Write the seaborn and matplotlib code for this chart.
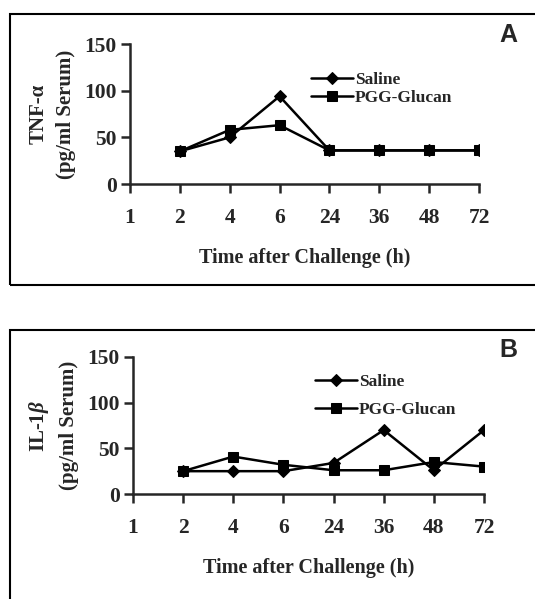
import pandas as pd
import matplotlib.pyplot as plt
import seaborn as sns
from matplotlib.patches import Rectangle

# dati
etichette_x = ["1", "2", "4", "6", "24", "36", "48", "72"]
tempi = ["2", "4", "6", "24", "36", "48", "72"]
tnf_saline = [35, 50, 94, 36, 36, 36, 36]
tnf_pgg = [35, 58, 63, 36, 36, 36, 36]
il1_saline = [25, 25, 25, 34, 70, 26, 70]
il1_pgg = [25, 41, 32, 26, 26, 35, 30]

sns.set_style("ticks")
plt.rcParams['font.family'] = ['Liberation Serif', 'DejaVu Serif']
plt.rcParams['font.weight'] = 'bold'
plt.rcParams['mathtext.fontset'] = 'custom'
plt.rcParams['mathtext.rm'] = 'Liberation Serif:bold'
plt.rcParams['mathtext.it'] = 'Liberation Serif:italic:bold'


def crea_df(saline, pgg):
    pos = [etichette_x.index(t) for t in tempi]
    righe = []
    for p, s, g in zip(pos, saline, pgg):
        righe.append({"pos": p, "val": s, "gruppo": "Saline"})
        righe.append({"pos": p, "val": g, "gruppo": "PGG-Glucan"})
    return pd.DataFrame(righe)


fig = plt.figure(figsize=(5.35, 5.99), dpi=100)

# riquadri dei pannelli
fig.patches.append(Rectangle((10 / 535, 1 - 285 / 599), 0.99, 271 / 599,
                             transform=fig.transFigure, fill=False, lw=1.5, ec='black'))
fig.patches.append(Rectangle((10 / 535, -0.01), 0.99, 1 - 330 / 599 + 0.01,
                             transform=fig.transFigure, fill=False, lw=1.5, ec='black'))

pannelli = [
    ([130 / 535, 1 - 184 / 599, 349 / 535, 140 / 599], tnf_saline, tnf_pgg,
     "TNF-α\n(pg/ml Serum)", "A", (508 / 535, 1 - 35 / 599), (0.50, 0.85), 0.1),
    ([133 / 535, 1 - 494 / 599, 351 / 535, 137 / 599], il1_saline, il1_pgg,
     "IL-1$\\beta$\n(pg/ml Serum)", "B", (508 / 535, 1 - 350 / 599), (0.50, 0.93), 0.7),
]

for rect, sal, pgg, ylab, lettera, pos_lettera, pos_leg, spaz in pannelli:
    ax = fig.add_axes(rect)
    df = crea_df(sal, pgg)
    sns.lineplot(data=df, x="pos", y="val", hue="gruppo", style="gruppo",
                 markers={"Saline": "D", "PGG-Glucan": "s"}, dashes=False,
                 palette={"Saline": "black", "PGG-Glucan": "black"},
                 markersize=6.5, lw=1.8, markeredgecolor='black', ax=ax)
    ax.set_xlim(0, 7)
    ax.set_ylim(0, 150)
    ax.set_xticks(range(len(etichette_x)))
    ax.set_xticklabels(etichette_x)
    ax.set_yticks([0, 50, 100, 150])
    ax.tick_params(labelsize=15.5, width=1.8, length=6.5, pad=11)
    ax.tick_params(axis='y', pad=3)
    for sp in ['left', 'bottom']:
        ax.spines[sp].set_linewidth(1.8)
    sns.despine(ax=ax)
    for t in ax.get_xticklabels() + ax.get_yticklabels():
        t.set_fontweight('bold')
    ax.set_xlabel("Time after Challenge (h)", fontsize=14.5, fontweight='bold', labelpad=14)
    ax.set_ylabel(ylab, fontsize=15, fontweight='bold', labelpad=6, linespacing=1.5)
    leg = ax.legend(loc='upper left', bbox_to_anchor=pos_leg, frameon=False,
                    fontsize=12.5, handlelength=2.4, handletextpad=0.1,
                    borderaxespad=0, labelspacing=spaz)
    for t in leg.get_texts():
        t.set_fontweight('bold')
    fig.text(pos_lettera[0], pos_lettera[1], lettera, fontsize=18, fontweight='bold',
             family='Liberation Sans', ha='center', va='center')

fig.savefig("out.png", dpi=100)
